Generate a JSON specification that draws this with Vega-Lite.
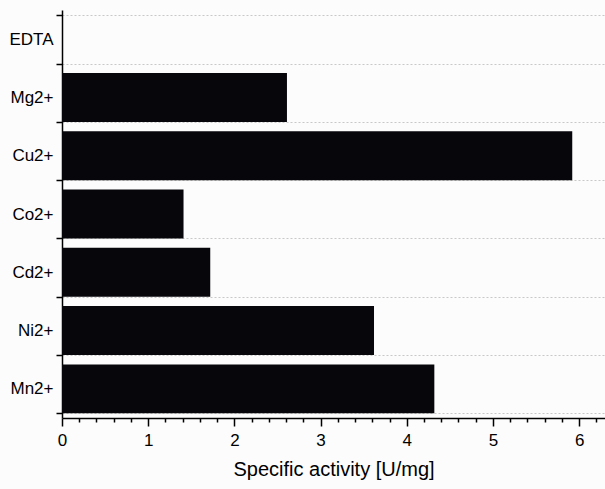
{
  "$schema": "https://vega.github.io/schema/vega-lite/v6.json",
  "width": 543,
  "height": 408,
  "autosize": {"type": "none"},
  "padding": {"left": 62, "top": 10, "right": 0, "bottom": 71},
  "background": "#fcfcfc",
  "data": {
    "values": [
      {"ion": "EDTA", "activity": 0},
      {"ion": "Mg2+", "activity": 2.61},
      {"ion": "Cu2+", "activity": 5.92},
      {"ion": "Co2+", "activity": 1.41},
      {"ion": "Cd2+", "activity": 1.72},
      {"ion": "Ni2+", "activity": 3.62},
      {"ion": "Mn2+", "activity": 4.32}
    ]
  },
  "mark": {"type": "bar", "color": "#07060b"},
  "encoding": {
    "y": {
      "field": "ion",
      "type": "nominal",
      "sort": null,
      "scale": {"paddingInner": 0.16, "paddingOuter": 0.08},
      "axis": {
        "title": null,
        "tickBand": "extent",
        "grid": true,
        "gridDash": [2, 2],
        "gridColor": "#c8c8c8",
        "gridWidth": 1,
        "domainColor": "#000000",
        "domainWidth": 1.5,
        "tickColor": "#000000",
        "tickWidth": 1.5,
        "tickSize": 6,
        "labelPadding": 3,
        "labelFont": "Liberation Sans",
        "labelFontSize": 17,
        "labelColor": "#000000"
      }
    },
    "x": {
      "field": "activity",
      "type": "quantitative",
      "scale": {"domain": [0, 6.3], "nice": false},
      "axis": {
        "title": "Specific activity [U/mg]",
        "titleFont": "Liberation Sans",
        "titleFontSize": 20,
        "titleFontWeight": "normal",
        "titleColor": "#000000",
        "titlePadding": 11,
        "grid": false,
        "values": [0, 0.2, 0.4, 0.6, 0.8, 1, 1.2, 1.4, 1.6, 1.8, 2, 2.2, 2.4, 2.6, 2.8, 3, 3.2, 3.4, 3.6, 3.8, 4, 4.2, 4.4, 4.6, 4.8, 5, 5.2, 5.4, 5.6, 5.8, 6, 6.2],
        "labelExpr": "datum.value % 1 === 0 ? format(datum.value, 'd') : ''",
        "labelOverlap": false,
        "labelFlush": false,
        "tickSize": {"condition": {"test": "datum.value % 1 === 0", "value": 8}, "value": 4},
        "tickWidth": 1.5,
        "tickColor": "#000000",
        "domainColor": "#000000",
        "domainWidth": 1.5,
        "labelPadding": 6,
        "labelFont": "Liberation Sans",
        "labelFontSize": 17,
        "labelColor": "#000000"
      }
    }
  },
  "config": {"view": {"stroke": null}}
}
